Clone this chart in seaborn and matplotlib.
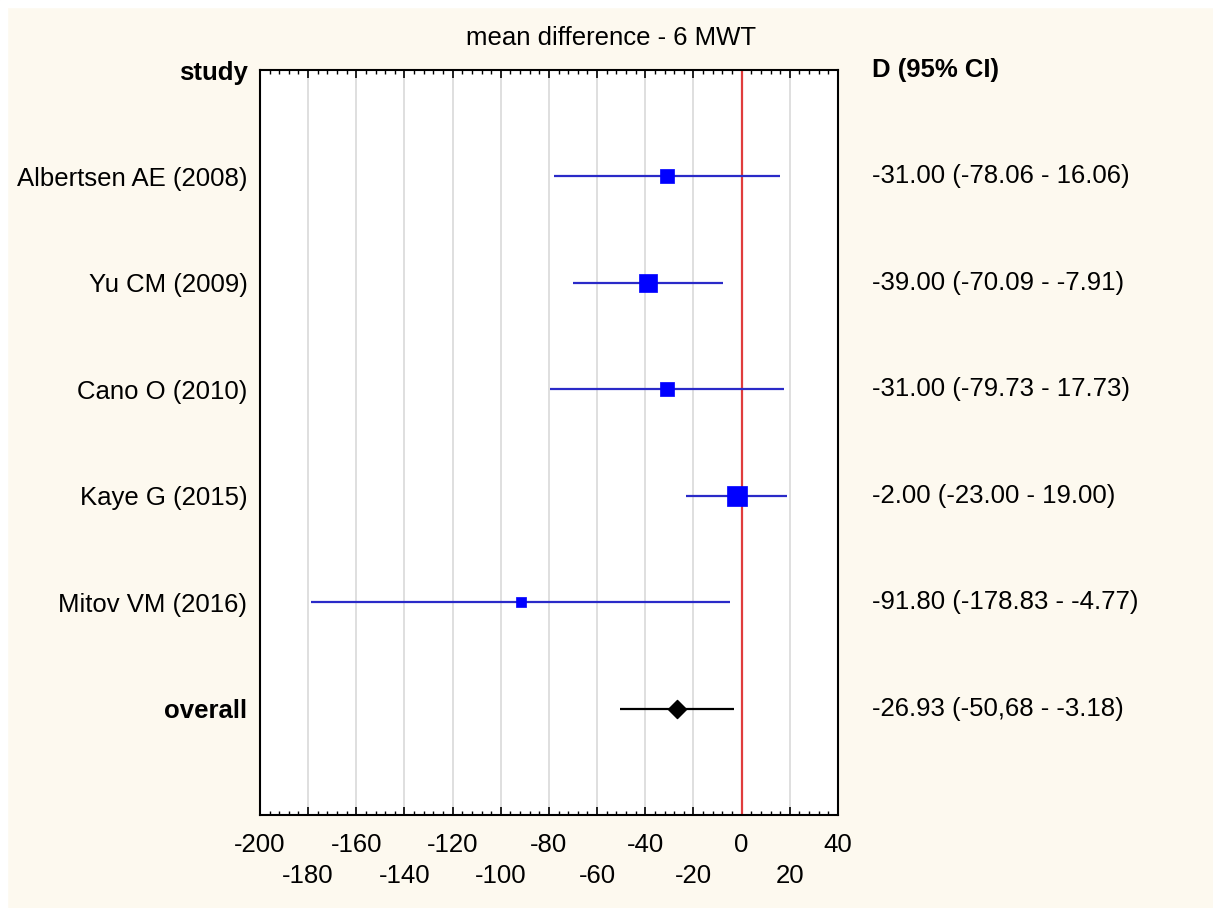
import numpy as np
import pandas as pd
import matplotlib
matplotlib.use("Agg")
import matplotlib.pyplot as plt
import seaborn as sns
from matplotlib.ticker import MultipleLocator
from matplotlib.patches import Rectangle

# study data (mean difference, 6 MWT)
studies = ["Albertsen AE (2008)", "Yu CM (2009)", "Cano O (2010)", "Kaye G (2015)", "Mitov VM (2016)"]
md = [-31.00, -39.00, -31.00, -2.00, -91.80]
ci_low = [-78.06, -70.09, -79.73, -23.00, -178.83]
ci_high = [16.06, -7.91, 17.73, 19.00, -4.77]
weight_px = [14, 18, 14, 20, 10]  # marker box size

overall_md = -26.93
overall_low = -50.68
overall_high = -3.18
overall_label = "-26.93 (-50,68 - -3.18)"

xticks = list(range(-200, 41, 20))

sns.set_theme(style="white")
plt.rcParams['font.family'] = ['Liberation Sans', 'DejaVu Sans']
plt.rcParams['text.color'] = 'black'
plt.rcParams['xtick.color'] = 'black'
plt.rcParams['ytick.color'] = 'black'

fs = 18.5
bg = "#fdf9ef"
fig = plt.figure(figsize=(12.13, 9.08), dpi=100, facecolor=bg)
# thin white margin at top and left, as in the scanned original
fig.patches.append(Rectangle((0, 0), 7 / 1213, 1, transform=fig.transFigure, color="white", zorder=-1))
fig.patches.append(Rectangle((0, 1 - 7 / 908), 1, 7 / 908, transform=fig.transFigure, color="white", zorder=-1))

ax = fig.add_axes([0.2143, 0.1024, 0.4765, 0.8205])
ax.set_facecolor("white")

df = pd.DataFrame({"study": studies, "md": md, "lo": ci_low, "hi": ci_high,
                   "row": np.arange(1, len(studies) + 1),
                   "s": [(w / 1.389) ** 2 for w in weight_px]})

# grid + zero line
for x in xticks:
    ax.axvline(x, color="#d9d9d9", lw=1.2, zorder=0)
ax.axvline(0, color="#e03c3c", lw=1.6, zorder=1)

# confidence intervals
ax.hlines(df["row"], df["lo"], df["hi"], color="#2a2ac8", lw=1.6, zorder=2)
sns.scatterplot(data=df, x="md", y="row", size="s", sizes=(df["s"].min(), df["s"].max()),
                marker="s", color="#0000ff", edgecolor="#0000ff", linewidth=0.5,
                legend=False, ax=ax, zorder=3)

# overall estimate
orow = len(studies) + 1
ax.hlines(orow, overall_low, overall_high, color="black", lw=1.6, zorder=2)
ax.scatter([overall_md], [orow], marker="D", s=85, color="black", zorder=3)

ax.set_xlim(-200, 40)
ax.set_ylim(7, 0)
ax.set_xlabel("")
ax.set_ylabel("")

# staggered x tick labels
ax.set_xticks(xticks)
labels = []
for i, x in enumerate(xticks):
    labels.append(str(x) if i % 2 == 0 else "\n" + str(x))
ax.set_xticklabels(labels, fontsize=fs)
for lbl in ax.get_xticklabels():
    lbl.set_linespacing(1.35)
ax.xaxis.set_minor_locator(MultipleLocator(4))
ax.tick_params(axis="x", which="major", direction="in", length=6, width=1.2,
               top=True, bottom=True, color="black", pad=13)
ax.tick_params(axis="x", which="minor", direction="in", length=3, width=1,
               top=True, bottom=True, color="black")

# y labels
rows = [0] + list(df["row"]) + [orow]
ylabels = ["study"] + studies + ["overall"]
ax.set_yticks(rows)
ax.set_yticklabels(ylabels, fontsize=fs)
ax.tick_params(axis="y", length=0, pad=9)
for lbl in ax.get_yticklabels():
    if lbl.get_text() in ("study", "overall"):
        lbl.set_fontweight("bold")

# right column
xr = 1.059
right = [f"{m:.2f} ({l:.2f} - {h:.2f})" for m, l, h in zip(md, ci_low, ci_high)]
ax.text(xr, 0, "D (95% CI)", transform=ax.get_yaxis_transform(), fontsize=fs,
        fontweight="bold", va="center", ha="left")
for r, t in zip(df["row"], right):
    ax.text(xr, r, t, transform=ax.get_yaxis_transform(), fontsize=fs, va="center", ha="left")
ax.text(xr, orow, overall_label, transform=ax.get_yaxis_transform(), fontsize=fs,
        va="center", ha="left")

# title is centred on the whole figure, not on the axes
fig.text(0.504, 0.958, "mean difference - 6 MWT", fontsize=fs, ha="center", va="center")

for sp in ax.spines.values():
    sp.set_visible(True)
    sp.set_color("black")
    sp.set_linewidth(1.5)

fig.savefig("out.png", dpi=100, facecolor=bg)
